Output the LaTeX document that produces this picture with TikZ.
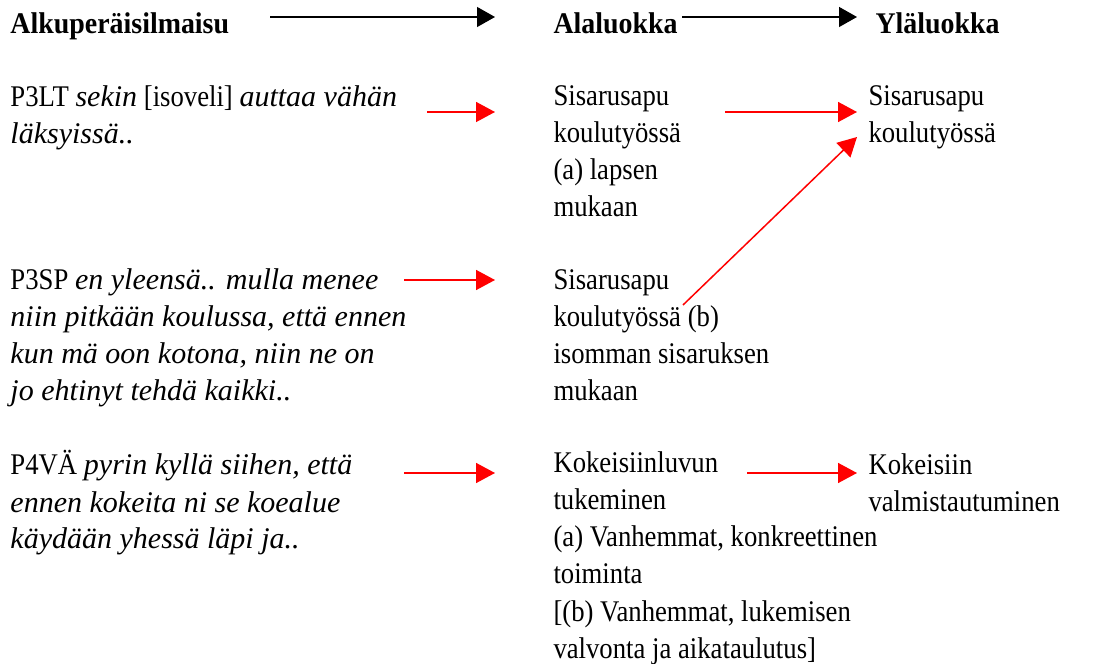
\documentclass[tikz,border=0pt]{standalone}
\usepackage{fontspec}
\setmainfont{Liberation Serif}[
  UprightFeatures={FakeStretch=0.89},
  BoldFeatures={FakeStretch=0.93},
  ItalicFeatures={FakeStretch=1}]
\usetikzlibrary{arrows.meta}
\usetikzlibrary{calc}

\begin{document}
\begin{tikzpicture}[x=0.4pt, y=-0.4pt,
    txt/.style={anchor=base west, align=left, inner sep=0pt, font=\fontsize{12}{14.8}\selectfont},
    headtxt/.style={txt, font=\fontsize{12}{14.8}\selectfont\bfseries},
    blackarrow/.style={-{Triangle[length=7.2pt, width=8pt]}, line width=0.5pt},
    redarrow/.style={-{Triangle[length=7.6pt, width=8pt]}, red, line width=0.6pt}]
    \useasboundingbox (0,0) rectangle (1118,664);

    % headers
    \node[headtxt] (alku) at (10,34) {Alkuperäisilmaisu};
    \node[headtxt] (ala) at (553,34) {Alaluokka};
    \node[headtxt] (yla) at (875,34) {Yläluokka};

    % original expressions (placed at the baseline of the last line)
    \node[txt] (p3lt) at (10,144) {P3LT \textit{sekin} [isoveli] \textit{auttaa vähän}\\\textit{läksyissä..}};
    \node[txt] (p3sp) at (10,401) {P3SP \textit{en yleensä.. mulla menee}\\\textit{niin pitkään koulussa, että ennen}\\\textit{kun mä oon kotona, niin ne on}\\\textit{jo ehtinyt tehdä kaikki..}};
    \node[txt] (p4va) at (10,549) {P4VÄ \textit{pyrin kyllä siihen, että}\\\textit{ennen kokeita ni se koealue}\\\textit{käydään yhessä läpi ja..}};

    % subclasses
    \node[txt] (alaA) at (553,217) {Sisarusapu\\koulutyössä\\(a) lapsen\\mukaan};
    \node[txt] (alaB) at (553,401) {Sisarusapu\\koulutyössä (b)\\isomman sisaruksen\\mukaan};
    \node[txt] (alaC) at (553,658) {Kokeisiinluvun\\tukeminen\\(a) Vanhemmat, konkreettinen\\toiminta\\{[(b)} Vanhemmat, lukemisen\\valvonta ja aikataulutus]};

    % upper classes
    \node[txt] (ylaA) at (868,143) {Sisarusapu\\koulutyössä};
    \node[txt] (ylaC) at (868,512) {Kokeisiin\\valmistautuminen};

    % arrow ends
    \coordinate (h1s) at (270,17);
    \coordinate (h1e) at (495,17);
    \coordinate (h2s) at (682,17);
    \coordinate (h2e) at (857,17);
    \coordinate (r1s) at (427,112);
    \coordinate (r1e) at (495,112);
    \coordinate (r2s) at (725,112);
    \coordinate (r2e) at (857,112);
    \coordinate (r3s) at (404,280);
    \coordinate (r3e) at (495,280);
    \coordinate (d1s) at (683,305);
    \coordinate (d1e) at (857,137);
    \coordinate (r4s) at (404,473);
    \coordinate (r4e) at (495,473);
    \coordinate (r5s) at (747,473);
    \coordinate (r5e) at (857,473);

    \draw[blackarrow] (h1s) -- (h1e);
    \draw[blackarrow] (h2s) -- (h2e);
    \draw[redarrow] (r1s) -- (r1e);
    \draw[redarrow] (r2s) -- (r2e);
    \draw[redarrow] (r3s) -- (r3e);
    \draw[redarrow] (d1s) -- (d1e);
    \draw[redarrow] (r4s) -- (r4e);
    \draw[redarrow] (r5s) -- (r5e);
\end{tikzpicture}
\end{document}
